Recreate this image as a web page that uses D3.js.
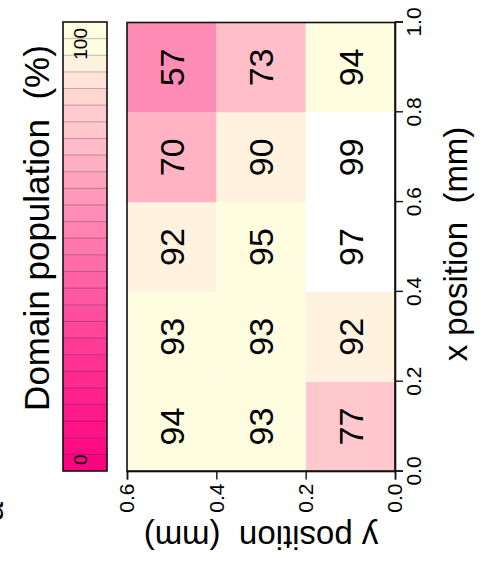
<!DOCTYPE html>
<html>
<head>
<meta charset="utf-8">
<script src="https://cdn.jsdelivr.net/npm/d3@7"></script>
<style>
  html, body { margin: 0; padding: 0; background: #fff; }
  svg { display: block; }
  text { font-family: "Liberation Sans", Arial, Helvetica, sans-serif; fill: #000; }
</style>
</head>
<body>
<svg id="chart" width="481" height="563"></svg>
<script>
// Cell edges along each axis (mm)
const xEdges = [0, 0.2, 0.4, 0.6, 0.8, 1.0];
const yEdges = [0, 0.2, 0.4, 0.6];

// Domain population (%) per cell, one array per y band, ordered by x
const popBand0 = [77, 92, 97, 99, 94];   // y 0.0–0.2
const popBand1 = [93, 93, 95, 90, 73];   // y 0.2–0.4
const popBand2 = [94, 93, 92, 70, 57];   // y 0.4–0.6
const bands = [popBand0, popBand1, popBand2];

// Axis tick values
const xTickValues = [0, 0.2, 0.4, 0.6, 0.8, 1.0];
const yTickValues = [0, 0.2, 0.4, 0.6];

// Colour key range and labels
const keyRange = [0, 100];
const keyLabels = ["0", "100"];
const keySegments = 27;

// Colour ramp for population, deep pink to pale yellow
const rampStops = [0, 20, 38, 57, 70, 75, 80, 85, 90, 92, 93, 100];
const rampColors = ["#ff0080", "#ff2890", "#ff55a0", "#ff8cb5", "#ffb3c3", "#ffc5cb",
                    "#ffcccf", "#ffd9d4", "#fff2df", "#fff2df", "#fffde0", "#fffee0"];
const ramp = d3.scaleLinear().domain(rampStops).range(rampColors).clamp(true);
const zMax = 96; // cells above this level are left unfilled
const cellFill = v => (v > zMax ? "#ffffff" : ramp(v));

// The figure is laid out landscape and then turned a quarter turn
const FW = 563, FH = 481;
const svg = d3.select("#chart");
const g = svg.append("g").attr("transform", `translate(0,${FW}) rotate(-90)`);

const x = d3.scaleLinear().domain([0, 1]).range([91.5, 540.5]);
const y = d3.scaleLinear().domain([0, 0.6]).range([395, 127]);

// Cells
const cells = [];
bands.forEach((vals, j) => vals.forEach((v, i) => cells.push({ i, j, v })));

g.append("g").selectAll("rect").data(cells).join("rect")
  .attr("x", d => x(xEdges[d.i]))
  .attr("y", d => y(yEdges[d.j + 1]))
  .attr("width", d => x(xEdges[d.i + 1]) - x(xEdges[d.i]))
  .attr("height", d => y(yEdges[d.j]) - y(yEdges[d.j + 1]))
  .attr("fill", d => cellFill(d.v));

g.append("g").selectAll("text").data(cells).join("text")
  .attr("x", d => (x(xEdges[d.i]) + x(xEdges[d.i + 1])) / 2)
  .attr("y", d => (y(yEdges[d.j]) + y(yEdges[d.j + 1])) / 2)
  .attr("dy", "0.36em")
  .attr("text-anchor", "middle")
  .style("font-size", "34px")
  .text(d => d.v);

// Plot frame
g.append("rect")
  .attr("x", x(0)).attr("y", y(0.6))
  .attr("width", x(1) - x(0)).attr("height", y(0) - y(0.6))
  .attr("fill", "none").attr("stroke", "#111").attr("stroke-width", 1.6);

// Axes
const xAxis = g.append("g").attr("transform", `translate(0,${y(0)})`)
  .call(d3.axisBottom(x).tickValues(xTickValues).tickSize(8).tickPadding(3)
    .tickFormat(d3.format(".1f")));
const yAxis = g.append("g").attr("transform", `translate(${x(0)},0)`)
  .call(d3.axisLeft(y).tickValues(yTickValues).tickSize(8).tickPadding(4)
    .tickFormat(d3.format(".1f")));
[xAxis, yAxis].forEach(a => {
  a.selectAll("path.domain").attr("stroke", "#111").attr("stroke-width", 1.6);
  a.selectAll(".tick line").attr("stroke", "#111").attr("stroke-width", 1.4);
  a.selectAll(".tick text").style("font-size", "21px").attr("fill", "#000")
    .style("font-family", "'Liberation Sans', Arial, sans-serif");
});

// Axis titles
g.append("text")
  .attr("x", (x(0) + x(1)) / 2 + 3).attr("y", 467)
  .attr("text-anchor", "middle").style("font-size", "33px")
  .style("white-space", "pre").attr("xml:space", "preserve")
  .text("x position  (mm)");
g.append("text")
  .attr("transform", `translate(37,${(y(0) + y(0.6)) / 2}) rotate(-90)`)
  .attr("text-anchor", "middle").style("font-size", "33px")
  .style("white-space", "pre").attr("xml:space", "preserve")
  .text("y position  (mm)");

// Colour key
const kx = d3.scaleLinear().domain(keyRange).range([92, 541]);
const keyTop = 63, keyH = 44;
const segs = d3.range(keySegments).map(k => {
  const a = keyRange[0] + (keyRange[1] - keyRange[0]) * k / keySegments;
  const b = keyRange[0] + (keyRange[1] - keyRange[0]) * (k + 1) / keySegments;
  return { a, b, c: ramp((a + b) / 2) };
});
g.append("g").selectAll("rect").data(segs).join("rect")
  .attr("x", d => kx(d.a)).attr("y", keyTop)
  .attr("width", d => kx(d.b) - kx(d.a) + 0.3).attr("height", keyH)
  .attr("fill", d => d.c);
g.append("g").selectAll("line").data(segs.slice(1)).join("line")
  .attr("x1", d => kx(d.a)).attr("x2", d => kx(d.a))
  .attr("y1", keyTop).attr("y2", keyTop + keyH)
  .attr("stroke", "#000").attr("stroke-opacity", 0.25).attr("stroke-width", 1);
g.append("rect")
  .attr("x", kx(0)).attr("y", keyTop).attr("width", kx(100) - kx(0)).attr("height", keyH)
  .attr("fill", "none").attr("stroke", "#111").attr("stroke-width", 1.6);
g.append("text").attr("x", kx(0) + 6).attr("y", keyTop + 24)
  .style("font-size", "19px").text(keyLabels[0]);
g.append("text").attr("x", kx(100) - 6).attr("y", keyTop + 24)
  .attr("text-anchor", "end").style("font-size", "19px").text(keyLabels[1]);
g.append("text")
  .attr("x", 335).attr("y", 49)
  .attr("text-anchor", "middle").style("font-size", "35px")
  .style("white-space", "pre").attr("xml:space", "preserve")
  .text("Domain population  (%)");

// Panel letter at the corner, mostly off the page
g.append("text").attr("x", 42).attr("y", 3)
  .style("font-size", "34px").text("a");
</script>
</body>
</html>
